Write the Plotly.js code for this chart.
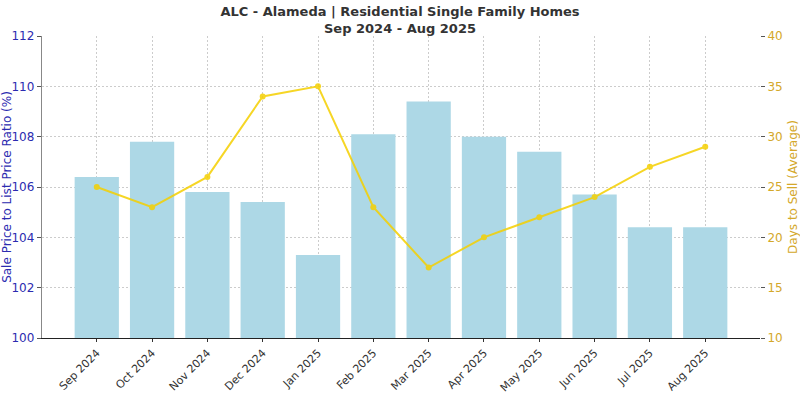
<!DOCTYPE html>
<html>
<head>
<meta charset="utf-8">
<script src="https://cdn.plot.ly/plotly-3.0.1.min.js"></script>
<style>html,body{margin:0;padding:0;background:#fff;}#chart{width:800px;height:393px;}</style>
</head>
<body>
<div id="chart"></div>
<script>
const months = ["Sep 2024","Oct 2024","Nov 2024","Dec 2024","Jan 2025","Feb 2025","Mar 2025","Apr 2025","May 2025","Jun 2025","Jul 2025","Aug 2025"];
const ratio = [106.4,107.8,105.8,105.4,103.3,108.1,109.4,108.0,107.4,105.7,104.4,104.4];
const days = [25,23,26,34,35,23,17,20,22,24,27,29];
const leftTicks = [100,102,104,106,108,110,112];
const rightTicks = [10,15,20,25,30,35,40];

const font = "DejaVu Sans, sans-serif";
const blue = "#2b2bb0";
const gold = "#d4a82a";

const traces = [
  {
    x: months, y: ratio, type: "bar", yaxis: "y", xaxis: "x",
    marker: {color: "#add8e6"},
    width: 0.8, hoverinfo: "skip"
  },
  {
    x: months, y: days, type: "scatter", mode: "lines+markers",
    yaxis: "y2", xaxis: "x",
    line: {color: "#f5d000", width: 2},
    marker: {color: "#f5d000", size: 6},
    opacity: 0.85,
    hoverinfo: "skip"
  }
];

const layout = {
  width: 800, height: 393,
  margin: {l: 42, r: 40, t: 36, b: 55},
  paper_bgcolor: "#fff", plot_bgcolor: "#fff",
  showlegend: false,
  font: {family: font, size: 12, color: "#333"},
  title: {
    text: "<b>ALC - Alameda | Residential Single Family Homes<br>Sep 2024 - Aug 2025</b>",
    font: {family: font, size: 13, color: "#333"},
    x: 0.5, xanchor: "center", y: 0.96, yanchor: "middle"
  },
  xaxis: {
    type: "category",
    range: [-0.99, 11.99],
    tickangle: -45,
    ticks: "outside", ticklen: 3, tickcolor: "#333",
    tickfont: {family: font, size: 11, color: "#333"},
    showgrid: true, gridcolor: "#cccccc", griddash: "2px,2px", gridwidth: 1,
    showline: true, linecolor: "#222", linewidth: 1.2,
    zeroline: false
  },
  yaxis: {
    side: "left",
    range: [100, 112],
    tickvals: leftTicks,
    ticks: "outside", ticklen: 4, tickcolor: "#555",
    tickfont: {family: font, size: 12, color: blue},
    title: {text: "Sale Price to List Price Ratio (%)", font: {family: font, size: 12, color: blue}, standoff: 6},
    showgrid: true, gridcolor: "#cccccc", griddash: "2px,2px", gridwidth: 1,
    showline: true, linecolor: "#888", linewidth: 1.2, zeroline: false
  },
  yaxis2: {
    overlaying: "y", side: "right",
    range: [10, 40],
    tickvals: rightTicks,
    ticks: "outside", ticklen: 4, tickcolor: "#555",
    tickfont: {family: font, size: 12, color: gold},
    title: {text: "Days to Sell (Average)", font: {family: font, size: 12, color: gold}, standoff: 6},
    showgrid: false,
    showline: false, zeroline: false
  }
};

Plotly.newPlot("chart", traces, layout, {displayModeBar: false, staticPlot: true});
</script>
</body>
</html>
